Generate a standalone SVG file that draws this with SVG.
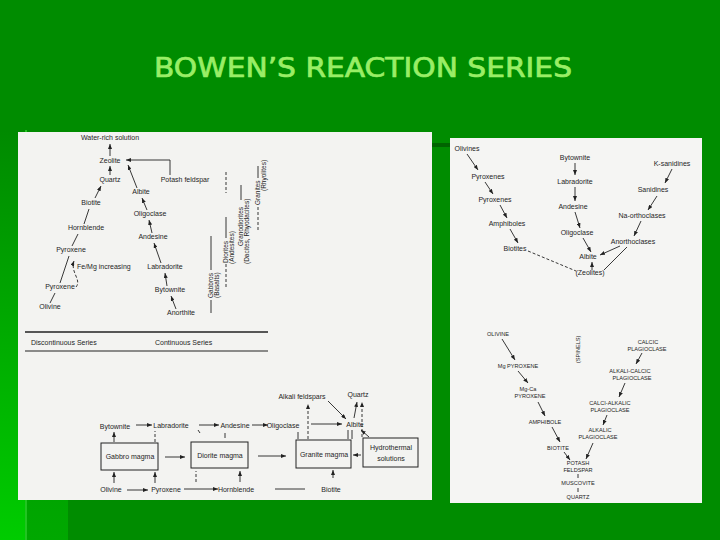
<svg xmlns="http://www.w3.org/2000/svg" width="720" height="540" viewBox="0 0 720 540">
<defs>
<linearGradient id="gl" x1="0" y1="0" x2="0" y2="1">
<stop offset="0" stop-color="#008a00"/>
<stop offset="1" stop-color="#00cc00"/>
</linearGradient>
<linearGradient id="gm" x1="0" y1="0" x2="0" y2="1">
<stop offset="0" stop-color="#008a00"/>
<stop offset="1" stop-color="#00a800"/>
</linearGradient>
<marker id="ah" viewBox="0 0 10 8" refX="10" refY="4" markerWidth="5" markerHeight="4" markerUnits="userSpaceOnUse" orient="auto">
<path d="M0,0 L10,4 L0,8 z" fill="#222"/>
</marker>
<style>
.t{font-family:"Liberation Sans",Arial,sans-serif;font-size:7px;fill:#1e1e1e;text-anchor:middle}
.ts{text-anchor:start}
.u{font-family:"Liberation Sans",Arial,sans-serif;font-size:5.6px;fill:#1e1e1e;text-anchor:middle}
.v{font-family:"Liberation Sans",Arial,sans-serif;font-size:6.5px;fill:#1e1e1e;text-anchor:start}
.c{stroke:#222;stroke-width:0.9;fill:none}
.a{marker-end:url(#ah)}
.d{stroke-dasharray:3 2}
.bx{fill:none;stroke:#222;stroke-width:1}
</style>
</defs>
<rect width="720" height="540" fill="#008c00"/>
<rect x="0" y="130" width="25" height="410" fill="url(#gl)"/>
<rect x="25" y="130" width="2" height="410" fill="#22c422"/>
<rect x="27" y="130" width="41" height="410" fill="url(#gm)"/>
<rect x="432" y="143" width="18" height="4" fill="#006400"/>
<text x="363" y="77" font-family="'DejaVu Sans',sans-serif" font-size="26" fill="#99ee66" stroke="#99ee66" stroke-width="0.7" text-anchor="middle" textLength="418" lengthAdjust="spacingAndGlyphs">BOWEN’S REACTION SERIES</text>

<rect id="panel-left" x="18" y="132" width="414" height="368" fill="#f3f3f1"/>
<rect id="panel-right" x="450" y="138" width="252" height="365" fill="#f5f5f3"/>

<g id="left-discontinuous">
<text id="n-water" class="t" x="110" y="140">Water-rich solution</text>
<text id="n-zeolite" class="t" x="110" y="163">Zeolite</text>
<text id="n-quartz" class="t" x="110" y="182">Quartz</text>
<text id="n-potash" class="t" x="185" y="182">Potash feldspar</text>
<text id="n-biotite" class="t" x="91" y="205">Biotite</text>
<text id="n-hornblende" class="t" x="86" y="230">Hornblende</text>
<text id="n-pyroxene1" class="t" x="71" y="252">Pyroxene</text>
<text id="n-femg" class="t ts" x="77" y="269">Fe/Mg increasing</text>
<text id="n-pyroxene2" class="t" x="60" y="289">Pyroxene</text>
<text id="n-olivine" class="t" x="50" y="309">Olivine</text>
</g>
<g id="left-continuous">
<text id="n-albite" class="t" x="141" y="194">Albite</text>
<text id="n-oligoclase" class="t" x="150" y="216">Oligoclase</text>
<text id="n-andesine" class="t" x="153" y="239">Andesine</text>
<text id="n-labradorite" class="t" x="165" y="269">Labradorite</text>
<text id="n-bytownite" class="t" x="170" y="292">Bytownite</text>
<text id="n-anorthite" class="t" x="181" y="315">Anorthite</text>
</g>
<g id="left-rocks">
<text class="v" transform="translate(213,298) rotate(-90)">Gabbros</text>
<text class="v" transform="translate(219,298) rotate(-90)">(Basalts)</text>
<text class="v" transform="translate(228,263) rotate(-90)">Diorites</text>
<text class="v" transform="translate(234,264) rotate(-90)">(Andesites)</text>
<text class="v" transform="translate(243,246) rotate(-90)">Granodiorites</text>
<text class="v" transform="translate(249,264) rotate(-90)">(Dacites, Rhyodacites)</text>
<text class="v" transform="translate(260,205) rotate(-90)">Granites</text>
<text class="v" transform="translate(266,191) rotate(-90)">(Rhyolites)</text>
<text id="n-disc" class="t ts" x="31" y="345">Discontinuous Series</text>
<text id="n-cont" class="t ts" x="155" y="345">Continuous Series</text>
</g>

<g id="bottom-left-nodes">
<text class="t" x="302" y="399">Alkali feldspars</text>
<text class="t" x="358" y="397">Quartz</text>
<text class="t" x="355" y="427">Albite</text>
<text class="t" x="283" y="428">Oligoclase</text>
<text class="t" x="235" y="428">Andesine</text>
<text class="t" x="171" y="428">Labradorite</text>
<text class="t" x="115" y="429">Bytownite</text>
<g id="box-gabbro"><rect class="bx" x="101" y="443" width="57" height="27"/><text class="t" x="130" y="459">Gabbro magma</text></g>
<g id="box-diorite"><rect class="bx" x="191" y="442" width="57" height="26"/><text class="t" x="220" y="458">Diorite magma</text></g>
<g id="box-granite"><rect class="bx" x="296" y="440" width="55" height="28"/><text class="t" x="324" y="457">Granite magma</text></g>
<g id="box-hydro"><rect class="bx" x="363" y="438" width="55" height="29"/><text class="t" x="391" y="450">Hydrothermal</text><text class="t" x="391" y="461">solutions</text></g>
<text class="t" x="111" y="492">Olivine</text>
<text class="t" x="166" y="492">Pyroxene</text>
<text class="t" x="236" y="492">Hornblende</text>
<text class="t" x="331" y="492">Biotite</text>
</g>

<g id="right-top-nodes">
<text class="t" x="467" y="151">Olivines</text>
<text class="t" x="488" y="179">Pyroxenes</text>
<text class="t" x="495" y="202">Pyroxenes</text>
<text class="t" x="507" y="226">Amphiboles</text>
<text class="t" x="515" y="251">Biotites</text>
<text class="t" x="575" y="160">Bytownite</text>
<text class="t" x="575" y="184">Labradorite</text>
<text class="t" x="573" y="209">Andesine</text>
<text class="t" x="577" y="235">Oligoclase</text>
<text class="t" x="588" y="259">Albite</text>
<text class="t" x="590" y="275">(Zeolites)</text>
<text class="t" x="672" y="166">K-sanidines</text>
<text class="t" x="653" y="192">Sanidines</text>
<text class="t" x="642" y="218">Na-orthoclases</text>
<text class="t" x="633" y="244">Anorthoclases</text>
</g>

<g id="right-bottom-nodes">
<text class="u" x="498" y="336">OLIVINE</text>
<text class="u" x="518" y="368">Mg PYROXENE</text>
<text class="u" x="528" y="391">Mg-Ca</text>
<text class="u" x="530" y="398">PYROXENE</text>
<text class="u" x="545" y="424">AMPHIBOLE</text>
<text class="u" x="558" y="450">BIOTITE</text>
<text class="u" x="578" y="465">POTASH</text>
<text class="u" x="578" y="472">FELDSPAR</text>
<text class="u" x="578" y="485">MUSCOVITE</text>
<text class="u" x="578" y="499">QUARTZ</text>
<text class="u" style="text-anchor:start" transform="translate(580,363) rotate(-90)">(SPINELS)</text>
<text class="u" x="648" y="344">CALCIC</text>
<text class="u" x="647" y="351">PLAGIOCLASE</text>
<text class="u" x="630" y="373">ALKALI-CALCIC</text>
<text class="u" x="632" y="380">PLAGIOCLASE</text>
<text class="u" x="610" y="405">CALCI-ALKALIC</text>
<text class="u" x="610" y="412">PLAGIOCLASE</text>
<text class="u" x="600" y="432">ALKALIC</text>
<text class="u" x="598" y="439">PLAGIOCLASE</text>
</g>

<g id="connectors">
<line class="c a" x1="110" y1="156" x2="110" y2="144"/>
<line class="c a" x1="110" y1="175" x2="110" y2="166"/>
<polyline class="c a" points="170,175 170,160 126,160"/>
<line class="c a" x1="137" y1="188" x2="128" y2="165"/>
<line class="c a" x1="147" y1="210" x2="142" y2="198"/>
<line class="c a" x1="152" y1="233" x2="149" y2="220"/>
<line class="c a" x1="161" y1="263" x2="154" y2="243"/>
<line class="c a" x1="167" y1="286" x2="165" y2="273"/>
<line class="c a" x1="176" y1="309" x2="171" y2="296"/>
<line class="c a" x1="95" y1="198" x2="101" y2="186"/>
<line class="c" x1="84" y1="224" x2="89" y2="209"/>
<line class="c" x1="72" y1="246" x2="78" y2="234"/>
<line class="c" x1="60" y1="283" x2="69" y2="256"/>
<line class="c" x1="50" y1="303" x2="55" y2="293"/>
<path class="c d a" d="M76,287 C82,280 70,272 74,261"/>
<line class="c" x1="211" y1="300" x2="211" y2="313"/>
<line class="c" x1="211" y1="236" x2="211" y2="270"/>
<line class="c d" x1="226" y1="264" x2="226" y2="287"/>
<line class="c" x1="226" y1="217" x2="226" y2="238"/>
<line class="c d" x1="226" y1="172" x2="226" y2="193"/>
<line class="c" x1="241" y1="185" x2="241" y2="200"/>
<line class="c d" x1="258" y1="207" x2="258" y2="230"/>
<line class="c" x1="258" y1="166" x2="258" y2="178"/>
<line x1="25" y1="332" x2="268" y2="332" stroke="#222" stroke-width="1.6"/>
<line x1="25" y1="351" x2="268" y2="351" stroke="#222" stroke-width="1.2"/>
<line class="c a" x1="136" y1="425" x2="152" y2="425"/>
<line class="c a" x1="199" y1="425" x2="219" y2="425"/>
<line class="c a" x1="252" y1="425" x2="268" y2="425"/>
<line class="c a" x1="311" y1="424" x2="342" y2="424"/>
<line class="c a" x1="328" y1="401" x2="346" y2="419"/>
<line class="c a" x1="354" y1="418" x2="357" y2="402"/>
<line class="c d a" x1="308" y1="439" x2="308" y2="404"/>
<line class="c d a" x1="362" y1="437" x2="362" y2="402"/>
<line class="c a" x1="369" y1="437" x2="361" y2="430"/>
<line class="c a" x1="114" y1="442" x2="114" y2="432"/>
<line class="c d" x1="155" y1="442" x2="155" y2="431"/>
<line class="c" x1="198" y1="430" x2="200" y2="433"/>
<line class="c" x1="225" y1="433" x2="225" y2="438"/>
<line class="c" x1="298" y1="432" x2="298" y2="439"/>
<line class="c" x1="348" y1="430" x2="348" y2="439"/>
<line class="c" x1="352" y1="430" x2="352" y2="439"/>
<line class="c a" x1="165" y1="457" x2="185" y2="457"/>
<line class="c a" x1="258" y1="456" x2="286" y2="456"/>
<line class="c a" x1="361" y1="455" x2="353" y2="455"/>
<line class="c a" x1="127" y1="490" x2="148" y2="490"/>
<line class="c a" x1="184" y1="489" x2="218" y2="489"/>
<line class="c" x1="275" y1="489" x2="305" y2="489"/>
<line class="c a" x1="114" y1="483" x2="114" y2="472"/>
<line class="c a" x1="155" y1="483" x2="155" y2="472"/>
<line class="c d" x1="196" y1="482" x2="196" y2="471"/>
<line class="c a" x1="240" y1="482" x2="240" y2="471"/>
<line class="c a" x1="333" y1="478" x2="333" y2="470"/>
<line class="c a" x1="467" y1="154" x2="478" y2="170"/>
<line class="c a" x1="485" y1="182" x2="493" y2="194"/>
<line class="c a" x1="500" y1="205" x2="507" y2="218"/>
<line class="c a" x1="510" y1="229" x2="518" y2="243"/>
<line class="c d" x1="528" y1="251" x2="576" y2="271"/>
<line class="c a" x1="575" y1="163" x2="575" y2="175"/>
<line class="c a" x1="575" y1="187" x2="575" y2="201"/>
<line class="c a" x1="575" y1="212" x2="580" y2="228"/>
<line class="c a" x1="583" y1="238" x2="591" y2="252"/>
<line class="c a" x1="592" y1="270" x2="592" y2="262"/>
<line class="c a" x1="672" y1="169" x2="665" y2="183"/>
<line class="c a" x1="657" y1="196" x2="648" y2="210"/>
<line class="c a" x1="641" y1="221" x2="634" y2="236"/>
<line class="c a" x1="620" y1="246" x2="600" y2="255"/>
<line class="c" x1="627" y1="247" x2="604" y2="270"/>
<line class="c a" x1="502" y1="339" x2="515" y2="360"/>
<line class="c a" x1="518" y1="371" x2="528" y2="383"/>
<line class="c a" x1="538" y1="402" x2="545" y2="416"/>
<line class="c a" x1="552" y1="427" x2="560" y2="442"/>
<line class="c a" x1="564" y1="452" x2="570" y2="460"/>
<line class="c a" x1="642" y1="353" x2="636" y2="364"/>
<line class="c a" x1="625" y1="383" x2="619" y2="397"/>
<line class="c a" x1="607" y1="415" x2="603" y2="425"/>
<line class="c a" x1="593" y1="443" x2="586" y2="459"/>
<line class="c" x1="578" y1="474" x2="578" y2="478"/>
<line class="c" x1="578" y1="488" x2="578" y2="492"/>
</g>
</svg>
